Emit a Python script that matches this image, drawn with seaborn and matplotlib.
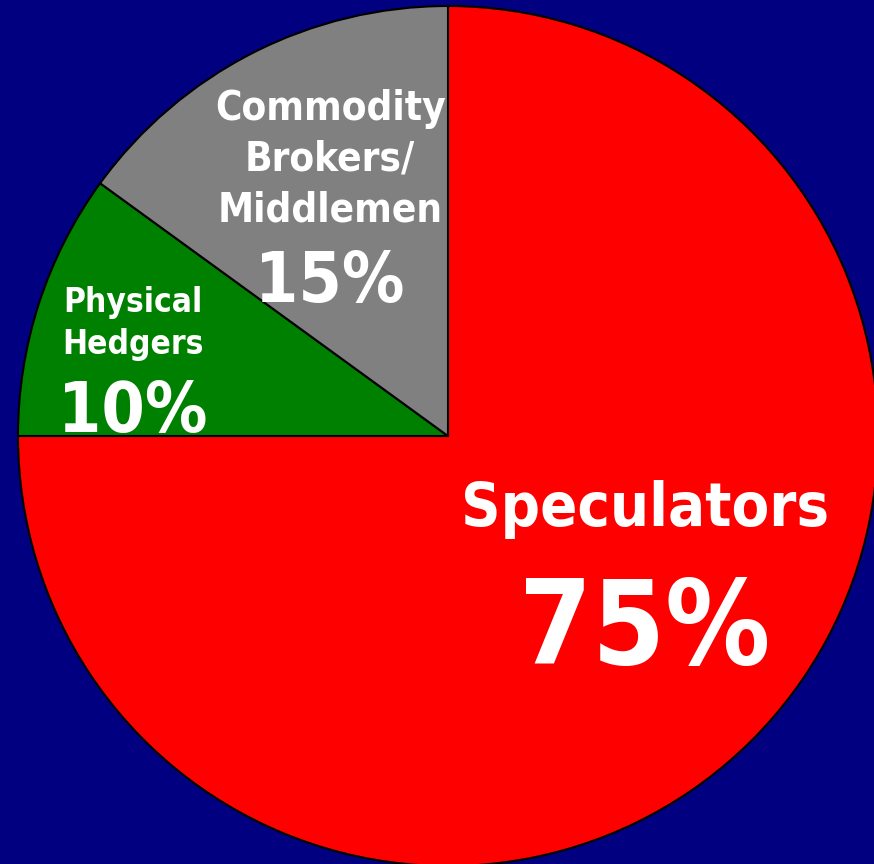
import matplotlib
matplotlib.use("Agg")
from matplotlib import pyplot as plt
import seaborn as sns

# chart data
groups = ["Speculators", "Physical\nHedgers", "Commodity\nBrokers/\nMiddlemen"]
shares = [75, 10, 15]
colors = ["#FF0000", "#008000", "#808080"]
bg = "#000080"

sns.set_theme(style="white")
plt.rcParams['font.family'] = ['DejaVu Sans']

fig = plt.figure(figsize=(8.74, 8.64), dpi=100, facecolor=bg)
ax = fig.add_axes([0, 0, 1, 1])
ax.set_facecolor(bg)

wedges, _ = ax.pie(shares, colors=colors, startangle=90, counterclock=False,
                   wedgeprops=dict(edgecolor="black", linewidth=1.5))

# labels: name + percent, placed inside each slice
lab_pos = [(0.458, -0.172), (-0.733, 0.262), (-0.274, 0.642)]
pct_pos = [(0.458, -0.455), (-0.733, 0.054), (-0.274, 0.356)]
name_size = [44, 24, 29]
pct_size = [84, 50, 50]
for g, s, lp, pp, ns, ps in zip(groups, shares, lab_pos, pct_pos, name_size, pct_size):
    ax.text(lp[0], lp[1], g, ha="center", va="center", color="white",
            fontsize=ns, fontweight="bold", fontstretch="condensed",
            linespacing=1.35)
    ax.text(pp[0], pp[1], f"{s}%", ha="center", va="center", color="white",
            fontsize=ps, fontweight="bold", fontstretch="condensed")

ax.set_aspect("auto")
ax.set_xlim(-448 / 430, 426 / 430)
ax.set_ylim(-428 / 430, 436 / 430)
ax.axis("off")

fig.savefig("out.png", dpi=100, facecolor=bg)
